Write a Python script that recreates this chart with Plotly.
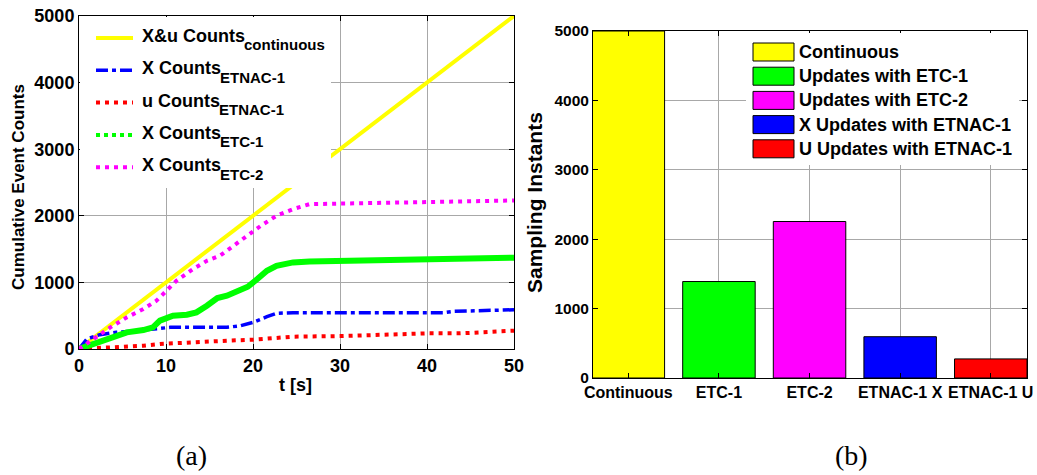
import plotly.graph_objects as go

# ---------------- data ----------------
# (a) cumulative event counts over time
t_cont = [0, 50]
cnt_cont = [0, 5000]

t_etnac_x = [0, 0.9, 2.4, 4.3, 6.6, 8.9, 10.5, 14, 17, 18.6, 20, 21.6, 22.7, 24.6, 41.9, 43.1, 47.7, 50]
cnt_etnac_x = [0, 150, 215, 250, 275, 310, 325, 325, 325, 350, 400, 485, 535, 545, 545, 565, 575, 590]

t_etnac_u = [0, 1.6, 5.5, 7.4, 9.3, 13.1, 17, 20, 22.7, 24.6, 30.4, 34.2, 36.1, 40, 43.8, 45.7, 50]
cnt_etnac_u = [0, 10, 25, 50, 75, 105, 125, 140, 165, 185, 195, 215, 225, 235, 235, 250, 275]

t_etc1 = [0, 1.6, 3.6, 5.5, 7.4, 8.5, 9.3, 10.8, 12.4, 13.5, 14.7, 15.9, 17.0, 18.6, 19.4, 20.5,
          21.6, 22.7, 24.6, 26.5, 30.4, 36.1, 40, 43.8, 50]
cnt_etc1 = [0, 75, 175, 250, 285, 325, 425, 500, 515, 550, 650, 765, 800, 875, 935, 1050,
            1175, 1250, 1300, 1315, 1325, 1335, 1345, 1360, 1370]

t_etc2 = [0, 1.6, 3.6, 5.5, 7.4, 8.9, 10.1, 11.2, 13.1, 14.7, 16.2, 17.8, 19.4, 20.9, 22.7,
          24.6, 26.5, 30.4, 36.1, 40, 43.8, 50]
cnt_etc2 = [0, 150, 325, 475, 600, 725, 875, 1025, 1200, 1325, 1400, 1550, 1700, 1850, 2000,
            2100, 2175, 2185, 2205, 2215, 2225, 2230]

line_labels = ["X&u Counts", "X Counts", "u Counts", "X Counts", "X Counts"]
line_label_subs = ["continuous", "ETNAC-1", "ETNAC-1", "ETC-1", "ETC-2"]

# (b) total sampling instants per scheme
bar_categories = ["Continuous", "ETC-1", "ETC-2", "ETNAC-1 X", "ETNAC-1 U"]
bar_values = [5000, 1390, 2255, 595, 275]
bar_names = ["Continuous", "Updates with ETC-1", "Updates with ETC-2",
             "X Updates with ETNAC-1", "U Updates with ETNAC-1"]
bar_colors = ["#ffff00", "#00ff00", "#ff00ff", "#0000ff", "#ff0000"]

x_ticks_a = [0, 10, 20, 30, 40, 50]
y_ticks = [0, 1000, 2000, 3000, 4000, 5000]

# ---------------- layout helpers ----------------
W, H = 1037, 475
FONT = "Liberation Sans, Arial, Helvetica, sans-serif"
SERIF = "Liberation Serif, Times New Roman, serif"

# advance widths (em) of bold Arial-metric glyphs, used to place the key subscripts
BOLD_W = {"X": .667, "&": .722, "u": .611, " ": .278, "C": .722, "o": .611,
          "n": .611, "t": .333, "s": .556}


def text_width(s, size):
    return sum(BOLD_W.get(c, .6) for c in s) * size


def fx(px):
    return px / W


def fy(py):
    return 1 - py / H


fig = go.Figure()

# ---------------- (a) line chart ----------------
line_styles = [
    dict(color="#ffff00", width=4),
    dict(color="#0000ff", width=3.5, dash="12px,4px,4px,4px"),
    dict(color="#ff0000", width=4, dash="4px,5px"),
    dict(color="#00ff00", width=6),
    dict(color="#ff00ff", width=4, dash="4px,5px"),
]
key_styles = [
    dict(color="#ffff00", width=4),
    dict(color="#0000ff", width=3.5, dash="12px,4px,4px,4px"),
    dict(color="#ff0000", width=4, dash="4px,5px"),
    dict(color="#00ff00", width=4, dash="4px,4px"),
    dict(color="#ff00ff", width=4, dash="4px,5px"),
]
series = [(t_cont, cnt_cont), (t_etnac_x, cnt_etnac_x), (t_etnac_u, cnt_etnac_u),
          (t_etc1, cnt_etc1), (t_etc2, cnt_etc2)]
for (tt, cc), st, lab, sb in zip(series, line_styles, line_labels, line_label_subs):
    fig.add_trace(go.Scatter(x=tt, y=cc, mode="lines", name=f"{lab} {sb}",
                             line=st, xaxis="x", yaxis="y", showlegend=False))

# ---------------- (b) bar chart ----------------
for cat, val, name, col in zip(bar_categories, bar_values, bar_names, bar_colors):
    fig.add_trace(go.Bar(x=[cat], y=[val], name=name, width=0.8, showlegend=False,
                         marker=dict(color=col, line=dict(color="#000000", width=1)),
                         xaxis="x2", yaxis="y2"))

grid = "#a8a8a8"
axis_common = dict(showline=True, linecolor="#000000", linewidth=1, mirror="ticks",
                   ticks="inside", ticklen=5, tickcolor="#000000", automargin=False,
                   showgrid=True, gridcolor=grid, gridwidth=1, zeroline=False)

fig.update_layout(
    template="none",
    width=W, height=H,
    margin=dict(l=0, r=0, t=0, b=0, pad=0),
    paper_bgcolor="#ffffff", plot_bgcolor="#ffffff",
    font=dict(family=FONT, size=18, color="#000000", weight="bold"),
    barmode="overlay",
    showlegend=False,
    xaxis=dict(domain=[fx(79), fx(514)], range=[0, 50], tickvals=x_ticks_a,
               tickfont=dict(size=18), anchor="y", **axis_common),
    yaxis=dict(domain=[fy(349), fy(16)], range=[0, 5000], tickvals=y_ticks,
               tickfont=dict(size=18), anchor="x", **axis_common),
    xaxis2=dict(domain=[fx(593), fx(1027)], type="category", range=[-0.39, 4.4],
                tickfont=dict(size=16), anchor="y2", **axis_common),
    yaxis2=dict(domain=[fy(378), fy(31)], range=[0, 5000], tickvals=y_ticks,
                tickfont=dict(size=15.5), anchor="x2", **axis_common),
)

annotations = [
    dict(text="t [s]", x=fx(295), y=fy(385), font=dict(size=18)),
    dict(text="Cumulative Event Counts", x=fx(18), y=fy(187), textangle=-90,
         font=dict(size=17)),
    dict(text="Sampling Instants", x=fx(534), y=fy(203), textangle=-90,
         font=dict(size=21)),
    dict(text="(a)", x=fx(191), y=fy(455),
         font=dict(family=SERIF, size=28, weight="normal")),
    dict(text="(b)", x=fx(851), y=fy(455),
         font=dict(family=SERIF, size=28, weight="normal")),
]
shapes = []

# key for the line chart: white panel, line samples, labels with subscripts
shapes.append(dict(type="rect", xref="paper", yref="paper", layer="above",
                   x0=fx(80), x1=fx(331), y0=fy(188), y1=fy(17),
                   fillcolor="#ffffff", line=dict(width=0)))
key_a_top, key_a_pitch = 36, 32.3
text_x = 140
for i, (st, lab, sb) in enumerate(zip(key_styles, line_labels, line_label_subs)):
    yc = key_a_top + i * key_a_pitch
    shapes.append(dict(type="line", xref="paper", yref="paper", layer="above",
                       x0=fx(96), x1=fx(133), y0=fy(yc + 2), y1=fy(yc + 2), line=st))
    annotations.append(dict(text=lab, x=fx(text_x), y=fy(yc), xanchor="left",
                            font=dict(size=18)))
    annotations.append(dict(text=sb, x=fx(text_x + text_width(lab, 18) - 1), y=fy(yc + 9),
                            xanchor="left", font=dict(size=15)))

# key for the bar chart: white panel, colour swatches and labels
shapes.append(dict(type="rect", xref="paper", yref="paper", layer="above",
                   x0=fx(746), x1=fx(1019), y0=fy(165), y1=fy(33),
                   fillcolor="#ffffff", line=dict(width=0)))
key_b_top, key_b_pitch = 52, 24.2
for i, (name, col) in enumerate(zip(bar_names, bar_colors)):
    yc = key_b_top + i * key_b_pitch
    shapes.append(dict(type="rect", xref="paper", yref="paper", layer="above",
                       x0=fx(753), x1=fx(794), y0=fy(yc + 9), y1=fy(yc - 9),
                       fillcolor=col, line=dict(color="#000000", width=1)))
    annotations.append(dict(text=name, x=fx(797), y=fy(yc), xanchor="left",
                            font=dict(size=18)))

for a in annotations:
    a.setdefault("xanchor", "center")
    a.update(xref="paper", yref="paper", showarrow=False, yanchor="middle")
fig.update_layout(annotations=annotations, shapes=shapes)

fig.write_html("out.html")
